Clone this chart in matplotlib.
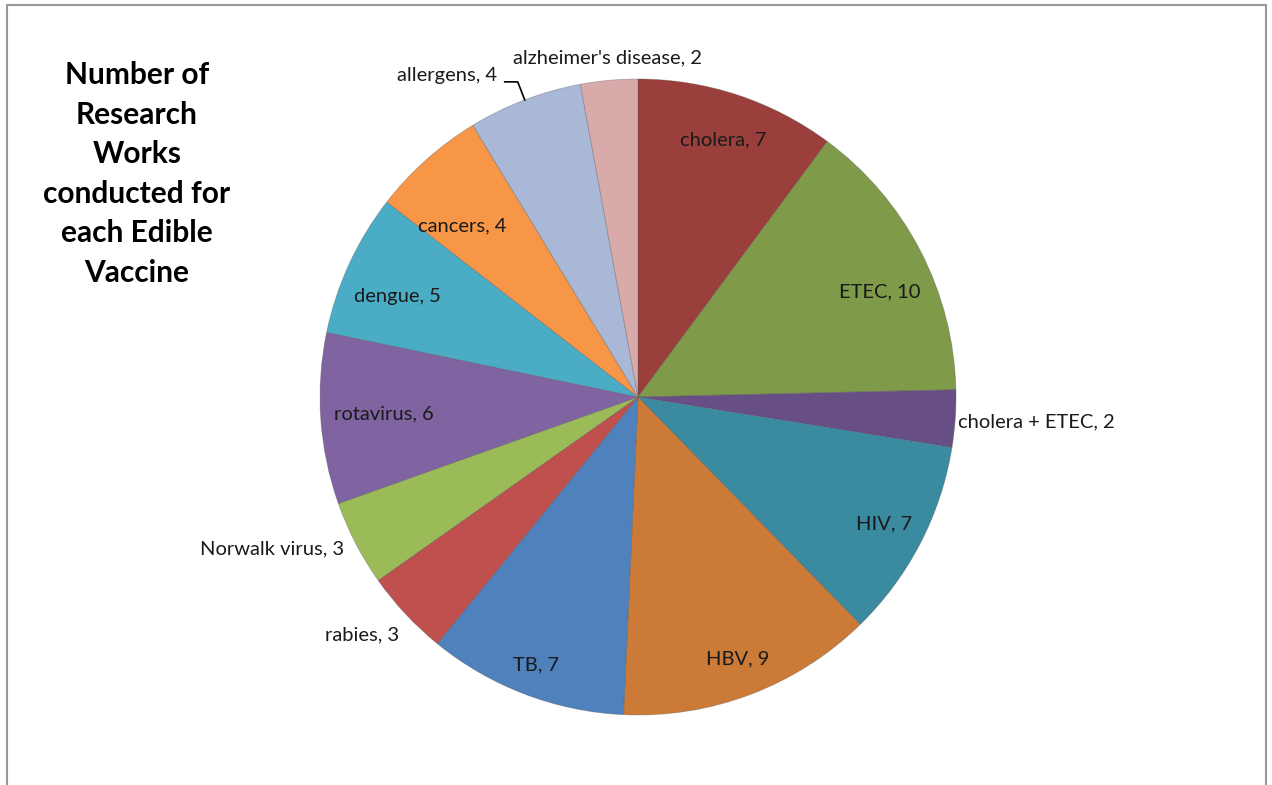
import numpy as np
import matplotlib.pyplot as plt
from matplotlib.patches import Rectangle

# research works per edible vaccine target
diseases = ["cholera", "ETEC", "cholera + ETEC", "HIV", "HBV", "TB", "rabies",
            "Norwalk virus", "rotavirus", "dengue", "cancers", "allergens",
            "alzheimer's disease"]
counts = [7, 10, 2, 7, 9, 7, 3, 3, 6, 5, 4, 4, 2]
colors = ["#9B3F3D", "#7F9A48", "#674F86", "#3A8BA0", "#CB7B37", "#4F81BD",
          "#C0504D", "#9BBB59", "#8064A2", "#4BACC6", "#F79646", "#A9B8D6",
          "#D9AAAA"]
title = "Number of\nResearch\nWorks\nconducted for\neach Edible\nVaccine"

W, H = 1272, 785
CX, CY, R = 638, H - 397, 318

# label radius (fraction of R) and angle nudge (deg) for each slice
label_r = [0.85, 0.83, 1.01, 0.87, 0.88, 0.90, 1.04, 1.04, 0.80, 0.82, 0.77, 1.0, 1.045]
label_da = [0, -4, -0.5, 0, 0, 0, 0.8, 0, 0, 2, 4, 0, 0]
outside = {"cholera + ETEC": ("left", "center"),
           "rabies": ("right", "top"),
           "Norwalk virus": ("right", "center"),
           "alzheimer's disease": ("center", "bottom")}

plt.rcParams['font.family'] = ['Lato', 'DejaVu Sans']

fig = plt.figure(figsize=(W / 100, H / 100), dpi=100)
ax = fig.add_axes([0, 0, 1, 1])

wedges, _ = ax.pie(counts, colors=colors, startangle=90, counterclock=False,
                   center=(CX, CY), radius=R, frame=True,
                   wedgeprops=dict(edgecolor=(0.3, 0.3, 0.3, 0.35), linewidth=0.6))
ax.set_xlim(0, W)
ax.set_ylim(0, H)
ax.set_aspect('equal')
ax.axis('off')

for w, name, n, rf, da in zip(wedges, diseases, counts, label_r, label_da):
    mid = np.deg2rad((w.theta1 + w.theta2) / 2 + da)
    x = CX + rf * R * np.cos(mid)
    y = CY + rf * R * np.sin(mid)
    text = f"{name}, {n}"
    if name == "allergens":
        # label sits at the end of a short leader line
        ax.plot([x, x - 7, x - 20], [y, y + 18, y + 18], color="black", lw=1.2)
        ax.text(x - 28, y + 24, text, ha="right", va="center",
                fontsize=14.5, color="#1a1a1a")
        continue
    ha, va = outside.get(name, ("center", "center"))
    ax.text(x, y, text, ha=ha, va=va, fontsize=14.5, color="#1a1a1a")

fig.text(137 / W, 1 - 174 / H, title, ha='center', va='center',
         fontsize=21.5, fontweight='bold', linespacing=1.5)

# outer chart frame
fig.patches.append(Rectangle((7 / W, -0.01), 1259 / W, 1 - 5 / H + 0.01,
                             transform=fig.transFigure, fill=False,
                             edgecolor="#999999", linewidth=1.5))

fig.savefig("out.png", dpi=100, facecolor="white")
